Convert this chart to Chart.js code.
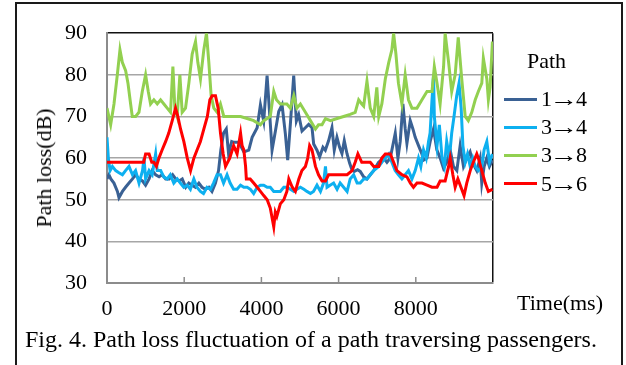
<!DOCTYPE html>
<html lang="en">
<head>
  <meta charset="UTF-8">
  <script src="https://cdn.jsdelivr.net/npm/chart.js"></script>
  <title>Path loss fluctuation</title>
  <style>
    body { margin: 0; background: #fff; }
    #wrap { position: relative; width: 626px; height: 365px; overflow: hidden; font-family: "Liberation Serif", "Times New Roman", serif; color: #000; }
    #frame { position: absolute; left: 15px; top: 2px; width: 608px; height: 420px; box-sizing: border-box; border: 2px solid #1a1a1a; }
    .txt { position: absolute; font-size: 22px; line-height: 1; white-space: nowrap; transform: translateY(-50%); }
    .arrow { display: inline-block; transform: scaleX(1.3); margin: 0 1px; letter-spacing: 0; }
    .swatch { position: absolute; width: 33px; height: 3px; }
    canvas { position: absolute; left: 0; top: 0; }
  </style>
</head>
<body>
  <div id="wrap">
    <div id="frame"></div>
    <canvas id="chart" width="626" height="365"></canvas>
    <div class="txt" id="ytitle" style="left:44px; top:168px; transform: translate(-50%,-50%) rotate(-90deg);">Path loss(dB)</div>
    <div class="txt" style="left:527px; top:61px;">Path</div>
    <div id="legend"></div>
    <div class="txt" style="left:517px; top:303px;">Time(ms)</div>
    <div class="txt" style="left:25px; top:339px; font-size:24px;">Fig. 4. Path loss fluctuation of a path traversing passengers.</div>
  </div>
  <script>
    const seriesNames = ['1→4', '3→4', '3→8', '5→6']
    const seriesColors = ['#3a6194', '#0db0f0', '#92d050', '#ff0000']
    const yTicks = [30, 40, 50, 60, 70, 80, 90]
    const xTicks = [0, 2000, 4000, 6000, 8000]

    // 1→4
    const t14 = [0,50,100,180,270,310,400,480,570,660,740,830,920,1000,1090,1170,1260,1350,1430,1520,1610,1700,1780,1870,1950,2040,2120,2200,2290,2380,2460,2550,2640,2720,2810,2890,2950,3020,3090,3150,3230,
      3285,3415,3545,3673,3760,3890,3975,4060,4147,4216,4276,4363,4449,4535,4621,4681,4750,4837,4906,4966,5052,5138,5225,5311,5354,5440,5509,5595,5656,5742,5828,5888,5957,6026,6087,6147,6216,6285,6345,6405,6492,6560,
      6649,6735,6821,6908,7037,7166,7252,7339,7425,7468,7537,7597,7666,7726,7770,7856,7925,7985,8071,8158,8200,8287,8373,8459,8545,8632,8718,8804,8890,8976,9063,9149,9235,9321,9407,9494,9580,9666,9709,9770,9838,9907,9985]
    const v14 = [55,56,55,54,52,50.5,52,53,54,55,56,55,54.5,53.5,55,57,56,55.5,56,55,55,56,55,54.5,55,53,54,53.5,53,54,53,52.5,53,52,54,57,62,66,67,61,64,
      63.8,63.8,61.5,61.9,65,67.3,72.8,68.9,79.8,70.4,61.9,66.5,71.2,72.8,65.8,59.5,68.1,79.8,68.9,70.4,66.5,67.3,68.1,67.3,63.4,61.9,60.3,62.6,61.9,64.2,67.3,61.9,65,62.6,61.1,64.2,61.1,58.8,57.2,56.8,57.2,56.8,
      55.5,55,56,57,59,60,59,60,64,66,60,64,73,67,63.5,69,67,65,63,61,59.5,60,64,67,62,60,57.5,59,62,58,57,63,58,60,61.5,58.5,57,60,54,58,60,58,59.5]

    // 3→4
    const t34 = [0,35,80,140,225,310,400,480,570,660,740,830,920,960,1000,1090,1170,1260,1300,1390,1470,1560,1640,1730,1820,1900,1990,2080,2160,2250,2330,2420,2500,2590,2680,2760,2850,2940,3020,3110,3190,3280,
      3370,3460,3545,3630,3715,3800,3890,3975,4060,4150,4230,4320,4400,4490,4580,4660,4750,4840,4920,5010,5100,5180,5270,5350,5440,5530,5610,5660,5700,5780,5870,5960,6040,6130,6220,6300,6390,6480,6560,
      6650,6735,6820,6910,7040,7120,7210,7300,7380,7465,7550,7640,7725,7810,7900,7985,8070,8130,8200,8270,8330,8370,8420,8460,8480,8550,8610,8680,8740,8800,8870,8930,8990,9060,9120,9175,9220,9280,9340,9410,9475,9540,9620,9710,9770,9840,9910,9985]
    const v34 = [65,60,57,58,57,56.5,56,57,58,56,57,54,57,60,55,57,56,61,57,57,55.5,55,56,54,55,54,53,53.5,52.5,55,53,52,51.5,53,52.5,54,56,56,54,56,54,52.5,
      52.5,53.5,53,53,52.5,51.5,53,53.5,53.5,53,53,52,52,52,53,53,52.5,52,52.5,53,52.5,52,51.5,52,53.5,52,54,58,53,53.5,54,52.5,54,53,52,55,56,54,54,
      55,55,56,57,58,59,60,61,59,57,56,55,56,57,55,57,60,58,62,60,64,66,74,80,70,63,68,60,58,64,60,66,70,75,78,72,63,59,61,58,60,58,57,58,62,64,59,61]

    // 3→8
    const t38 = [0,95,181,267,336,397,483,543,612,655,741,828,914,1000,1069,1129,1215,1302,1388,1474,1560,1646,1707,1758,1819,1888,1948,2034,2121,2207,2293,2353,2422,2508,2577,2638,2698,2767,2853,2939,3026,3112,3198,3370,
      3460,3630,3800,3975,4060,4150,4230,4320,4390,4490,4660,4750,4840,4920,5010,5140,5270,5400,5480,5570,5660,5790,5960,6130,6300,6430,6520,6600,
      6649,6735,6820,6910,6990,7040,7120,7210,7300,7380,7425,7485,7550,7640,7725,7810,7900,8030,8160,8290,8420,8480,8550,8630,8720,8760,8850,8930,9020,9100,9190,9280,9360,9450,9540,9620,9710,9750,9840,9880,9925,9985]
    const v38 = [72,68,73,80,86,83,81,78,73,70,70,71,76,80,76,73,74,73,74,73,72,71,82,72,70,80,71,72,78,85,88,83,79,86,90,83,75,72,71,73,70,70,70,70,
      70,69.5,69,68,69,69.5,70,76,74,73,73,72,75,72,73,71,69,67,68,68,69.5,69,69.5,70,70.5,71,74,73,
      72.5,78.5,72,70,77,70,73,79,83,86,90,85,78,73,80,74,72,72,74,76,76,82,78,73,82,90,83,76,80,89,79,70,69,71,74,76,78,84,79,74,77,88]

    // 5→6
    const t56 = [0,950,1000,1090,1160,1215,1280,1345,1430,1520,1600,1690,1775,1835,1905,1990,2080,2165,2250,2335,2420,2510,2600,2665,2725,2810,2880,2940,3010,3070,3180,3280,
      3370,3460,3500,3545,3590,3610,3710,3800,3890,3975,4060,4150,4230,4320,4360,4400,4490,4580,4660,4710,4800,4880,4970,5050,5140,5200,5250,5310,5400,5480,5570,5660,5740,5870,6040,6220,6350,6430,6500,6600,6730,
      6820,6910,7040,7120,7210,7340,7425,7510,7640,7770,7860,7940,8030,8160,8290,8420,8550,8630,8760,8850,8890,8960,9020,9090,9170,9250,9320,9410,9490,9580,9620,9710,9800,9880,9985]
    const v56 = [59,59,61,61,59,59,58,60,62,64,66,69,72,70,67,64,60,57,60,62,64,67,70,74,75,75,72,66,61,58,60,63,
      61,66,63,62,58,55,55,54,53,52,51,50,48,43.5,47,46,49,50,52,55,53,52,55,57,58,60,63,62,58,56,54.5,54.5,56,56,56,56,57,59,61,59,59,
      59,58,58,60,61,61,59,57,56,55.5,54,53,54,54,53.5,53,53,54.5,54.5,58,60,56,53,55,53,51,54,57,59,61,60,57,54,52,52.5]

    const times = [t14, t34, t38, t56]
    const values = [v14, v34, v38, v56]
    const drawOrder = [3, 2, 1, 0]   // red on top, dark blue at the bottom

    // legend (HTML)
    const legend = document.getElementById('legend')
    seriesNames.forEach((name, i) => {
      const y = 99 + i * 28.2
      const sw = document.createElement('div')
      sw.className = 'swatch'
      sw.style.left = '504px'
      sw.style.top = (y - 1.5) + 'px'
      sw.style.background = seriesColors[i]
      legend.appendChild(sw)
      const lb = document.createElement('div')
      lb.className = 'txt'
      lb.style.left = '541px'
      lb.style.top = y + 'px'
      const [a, b] = name.split('→')
      lb.append(a)
      const ar = document.createElement('span')
      ar.className = 'arrow'
      ar.textContent = '→'
      lb.append(ar, b)
      legend.appendChild(lb)
    })

    const innerTicks = {
      id: 'innerTicks',
      afterDatasetsDraw(chart) {
        const xs = chart.scales.x
        const ctx = chart.ctx
        const b = chart.chartArea.bottom
        ctx.save()
        ctx.strokeStyle = '#8c8c8c'
        ctx.lineWidth = 1.5
        xTicks.slice(1).forEach(v => {
          const px = xs.getPixelForValue(v)
          ctx.beginPath()
          ctx.moveTo(px, b)
          ctx.lineTo(px, b - 6)
          ctx.stroke()
        })
        ctx.restore()
      }
    }

    Chart.defaults.font.family = '"Liberation Serif", "Times New Roman", serif'
    Chart.defaults.font.size = 22
    Chart.defaults.color = '#000'

    new Chart(document.getElementById('chart'), {
      type: 'line',
      data: {
        datasets: seriesNames.map((name, i) => ({
          label: name,
          data: times[i].map((t, k) => ({ x: t, y: values[i][k] })),
          borderColor: seriesColors[i],
          borderWidth: 3,
          pointRadius: 0,
          tension: 0,
          order: drawOrder[i]
        }))
      },
      options: {
        responsive: false,
        animation: false,
        layout: { padding: { left: 0, top: 26, right: 133, bottom: 0 } },
        plugins: { legend: { display: false }, tooltip: { enabled: false } },
        scales: {
          x: {
            type: 'linear',
            min: 0,
            max: 10000,
            afterBuildTicks: s => { s.ticks = [...xTicks, 10000].map(v => ({ value: v })) },
            afterFit: s => { s.height = 82 },
            ticks: {
              padding: 13,
              maxRotation: 0,
              callback: v => xTicks.includes(v) ? String(v) : ''
            },
            grid: {
              drawTicks: false,
              color: c => c.tick && c.tick.value === 10000 ? '#111' : 'rgba(0,0,0,0)',
              lineWidth: 1.5
            },
            border: { color: '#8c8c8c', width: 2 }
          },
          y: {
            min: 30,
            max: 90,
            afterBuildTicks: s => { s.ticks = yTicks.map(v => ({ value: v })) },
            afterFit: s => { s.width = 107 },
            ticks: { padding: 20 },
            grid: {
              drawTicks: false,
              color: c => c.tick && c.tick.value === 90 ? '#111' : '#a6a6a6',
              lineWidth: 1.5
            },
            border: { color: '#8c8c8c', width: 2 }
          }
        }
      },
      plugins: [innerTicks]
    })
  </script>
</body>
</html>
